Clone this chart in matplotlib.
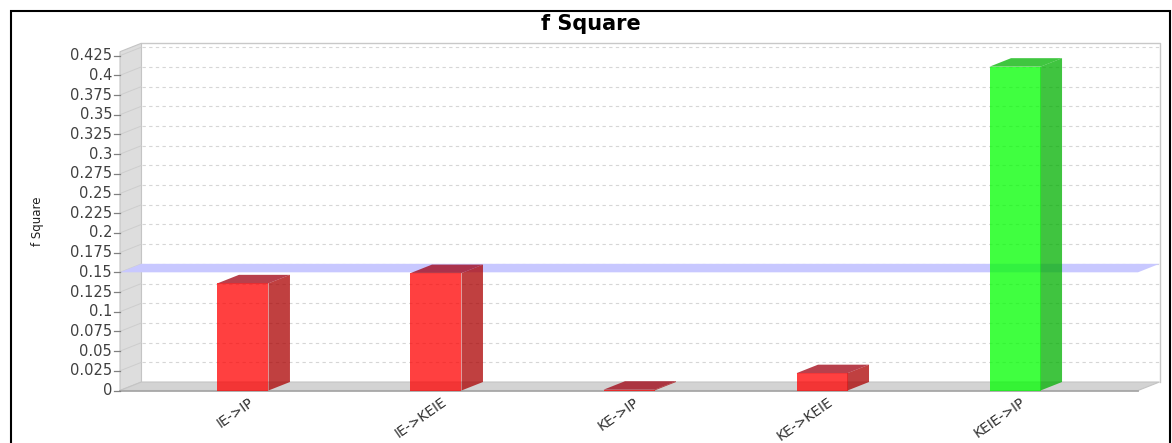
import matplotlib
matplotlib.use("Agg")
import matplotlib.pyplot as plt
from matplotlib.patches import Polygon, Rectangle

# ---- data -------------------------------------------------------------
categories = ["IE->IP", "IE->KEIE", "KE->IP", "KE->KEIE", "KEIE->IP"]
f_square = [0.136, 0.149, 0.001, 0.022, 0.411]
threshold = 0.15
y_ticks = [i * 0.025 for i in range(18)]
tick_labels = [f"{v:.3f}".rstrip("0").rstrip(".") for v in y_ticks]

# ---- figure geometry (pixels) -----------------------------------------
W, H, DPI = 1172, 443, 100
fig = plt.figure(figsize=(W / DPI, H / DPI), dpi=DPI)
fig.patch.set_facecolor("white")

left_px, right_px = 120, 1138
bottom_px, top_px = 390.5, 51.7          # measured from the top edge
ax = fig.add_axes([left_px / W, 1 - bottom_px / H,
                   (right_px - left_px) / W, (bottom_px - top_px) / H])
ax.set_axis_off()

xmin, xmax = -0.637, 4.637
ymin, ymax = 0.0, 0.43
ax.set_xlim(xmin, xmax)
ax.set_ylim(ymin, ymax)

px_x = (right_px - left_px) / (xmax - xmin)
px_y = (bottom_px - top_px) / (ymax - ymin)
DX = 21.5 / px_x                           # 3D depth offset in data units
DY = 8.5 / px_y

def poly(pts, **kw):
    p = Polygon(pts, closed=True, clip_on=False, **kw)
    ax.add_patch(p)
    return p

# left wall
poly([(xmin, ymin), (xmin, ymax), (xmin + DX, ymax + DY), (xmin + DX, ymin + DY)],
     facecolor="#dddddd", edgecolor="#c4c4c4", lw=0.8, zorder=1)
# floor
poly([(xmin, ymin), (xmax, ymin), (xmax + DX, ymin + DY), (xmin + DX, ymin + DY)],
     facecolor="#d3d3d3", edgecolor="#c4c4c4", lw=0.8, zorder=1)
ax.plot([xmin, xmax], [ymin, ymin], color="#a8a8a8", lw=1.3, clip_on=False, zorder=2)

# back wall outline
ax.plot([xmin + DX, xmax + DX, xmax + DX],
        [ymax + DY, ymax + DY, ymin + DY], color="#c8c8c8", lw=1.0,
        clip_on=False, zorder=1)

# grid lines on back wall and slanted guides on the side wall
for v in y_ticks[1:]:
    ax.plot([xmin + DX, xmax + DX], [v + DY, v + DY], color="#d6d6d6",
            lw=0.8, ls=(0, (3, 3)), clip_on=False, zorder=1)
    ax.plot([xmin, xmin + DX], [v, v + DY], color="#cdcdcd", lw=0.7,
            clip_on=False, zorder=1.5)

# threshold plane
poly([(xmin, threshold), (xmax, threshold), (xmax + DX, threshold + DY),
      (xmin + DX, threshold + DY)], facecolor="#c8c8ff", edgecolor="none", zorder=2)

# y axis ticks and labels
for v, lab in zip(y_ticks, tick_labels):
    ax.plot([xmin - 6 / px_x, xmin], [v, v], color="#808080", lw=0.9,
            clip_on=False, zorder=3)
    ax.text(xmin - 8 / px_x, v, lab, ha="right", va="center", fontsize=10.5,
            color="#404040", clip_on=False)

# bars
bar_w = 51 / px_x
red = dict(front="#ff0000", side="#ab0000", top="#a00010")
green = dict(front="#00ff00", side="#00b000", top="#00b400")
for i, (cat, v) in enumerate(zip(categories, f_square)):
    col = green if v >= 0.35 else red
    x0, x1 = i - bar_w / 2, i + bar_w / 2
    ax.bar(i, v, width=bar_w, color=col["front"], alpha=0.75, zorder=4,
           linewidth=0)
    poly([(x1, 0), (x1 + DX, DY), (x1 + DX, v + DY), (x1, v)],
         facecolor=col["side"], edgecolor="none", alpha=0.75, zorder=4)
    poly([(x0, v), (x1, v), (x1 + DX, v + DY), (x0 + DX, v + DY)],
         facecolor=col["top"], edgecolor="none", alpha=0.75, zorder=4)
    ax.text(i + 9 / px_x, -10 / px_y, cat, rotation=35, rotation_mode="anchor",
            ha="right", va="center", fontsize=10, color="#303030", clip_on=False)

# titles
fig.text(591 / W, 1 - 24 / H, "f Square", ha="center", va="center",
         fontsize=15, fontweight="bold", color="black")
fig.text(37 / W, 1 - 221 / H, "f Square", rotation=90, ha="center",
         va="center", fontsize=8.5, color="#202020")

# outer frame
fig.patches.append(Rectangle((11 / W, -0.05), (1170 - 11) / W, 1 - 11 / H + 0.05,
                             transform=fig.transFigure, fill=False,
                             edgecolor="black", lw=1.5))

fig.savefig("out.png", dpi=DPI)
